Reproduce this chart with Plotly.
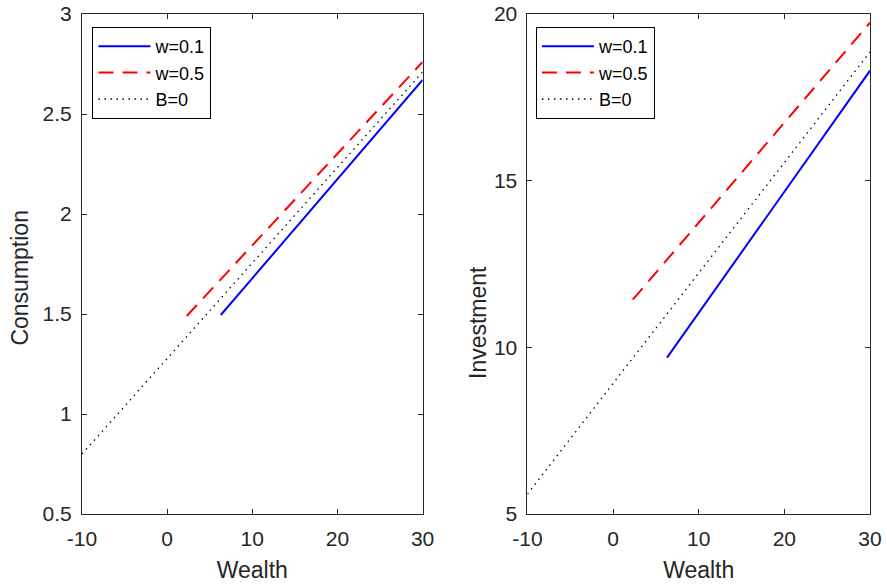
import plotly.graph_objects as go

# Data
wealth_w01 = [6.3, 30]
wealth_w05 = [2.3, 30]
wealth_b0 = [-10, 30]

cons_w01 = [1.495, 2.67]
cons_w05 = [1.49, 2.76]
cons_b0 = [0.80, 2.71]

inv_w01 = [9.69, 18.30]
inv_w05 = [11.43, 19.74]
inv_b0 = [5.6, 18.86]

names = ["w=0.1", "w=0.5", "B=0"]
x_ticks = [-10, 0, 10, 20, 30]
x_ticklabels = ["-10", "0", "10", "20", "30"]
cons_ticks = [0.5, 1, 1.5, 2, 2.5, 3]
cons_ticklabels = ["0.5", "1", "1.5", "2", "2.5", "3"]
inv_ticks = [5, 10, 15, 20]
inv_ticklabels = ["5", "10", "15", "20"]

styles = [
    dict(color="#0000ff", width=2, dash="solid"),
    dict(color="#ff0000", width=2, dash="15px,9px"),
    dict(color="#000000", width=1.3, dash="1.5px,4.5px"),
]

fig = go.Figure()

left_sets = [(wealth_w01, cons_w01), (wealth_w05, cons_w05), (wealth_b0, cons_b0)]
right_sets = [(wealth_w01, inv_w01), (wealth_w05, inv_w05), (wealth_b0, inv_b0)]

for (x, y), nm, st in zip(left_sets, names, styles):
    fig.add_trace(go.Scatter(x=x, y=y, mode="lines", name=nm, line=st,
                             xaxis="x", yaxis="y", legend="legend"))
for (x, y), nm, st in zip(right_sets, names, styles):
    fig.add_trace(go.Scatter(x=x, y=y, mode="lines", name=nm, line=st,
                             xaxis="x2", yaxis="y2", legend="legend2"))

W, H = 887, 586
ml, mt = 81.5, 14
mr = W - 870.5
mb = H - 514
pw = W - ml - mr
ph = H - mt - mb
d1 = [0, (422.5 - ml) / pw]
d2 = [(527.5 - ml) / pw, 1]

FONT = "Liberation Sans, Arial, Helvetica"
axcol = "#262626"
common = dict(showline=True, linecolor=axcol, linewidth=1, mirror="ticks",
              ticks="inside", ticklen=5, tickcolor=axcol, showgrid=False,
              zeroline=False, automargin=False, ticklabeloverflow="allow",
              tickfont=dict(family=FONT, size=21, color=axcol),
              title_font=dict(family=FONT, size=23, color=axcol))

def px_x(p):
    return (p - ml) / pw

def px_y(p):
    return 1 - (p - mt) / ph

fig.update_layout(
    width=W, height=H,
    margin=dict(l=ml, r=mr, t=mt, b=mb, autoexpand=False),
    paper_bgcolor="white", plot_bgcolor="white",
    xaxis=dict(domain=d1, range=[-10, 30], tickvals=x_ticks, ticktext=x_ticklabels,
               anchor="y", ticklabelstandoff=6, title=dict(text="Wealth", standoff=12), **common),
    yaxis=dict(domain=[0, 1], range=[0.5, 3], tickvals=cons_ticks, ticktext=cons_ticklabels,
               anchor="x", ticklabelstandoff=5, **common),
    xaxis2=dict(domain=d2, range=[-10, 30], tickvals=x_ticks, ticktext=x_ticklabels,
                anchor="y2", ticklabelstandoff=6, title=dict(text="Wealth", standoff=12), **common),
    yaxis2=dict(domain=[0, 1], range=[5, 20], tickvals=inv_ticks, ticktext=inv_ticklabels,
                anchor="x2", ticklabelstandoff=5, **common),
    legend=dict(x=px_x(92), y=px_y(27), xanchor="left", yanchor="top",
                bgcolor="white", bordercolor="#000000", borderwidth=1,
                font=dict(family=FONT, size=18, color="#000000"),
                tracegroupgap=0, itemwidth=52),
    legend2=dict(x=px_x(536), y=px_y(27), xanchor="left", yanchor="top",
                 bgcolor="white", bordercolor="#000000", borderwidth=1,
                 font=dict(family=FONT, size=18, color="#000000"),
                 tracegroupgap=0, itemwidth=52),
    annotations=[
        dict(text="Consumption", textangle=-90, xref="paper", yref="paper",
             x=px_x(19), y=px_y(278), xanchor="center", yanchor="middle", showarrow=False,
             font=dict(family=FONT, size=23, color=axcol)),
        dict(text="Investment", textangle=-90, xref="paper", yref="paper",
             x=px_x(478), y=px_y(322), xanchor="center", yanchor="middle", showarrow=False,
             font=dict(family=FONT, size=23, color=axcol)),
    ],
)

fig.write_html("out.html", config={"displayModeBar": False},
               post_script="document.body.style.margin='0';document.body.style.padding='0';")
